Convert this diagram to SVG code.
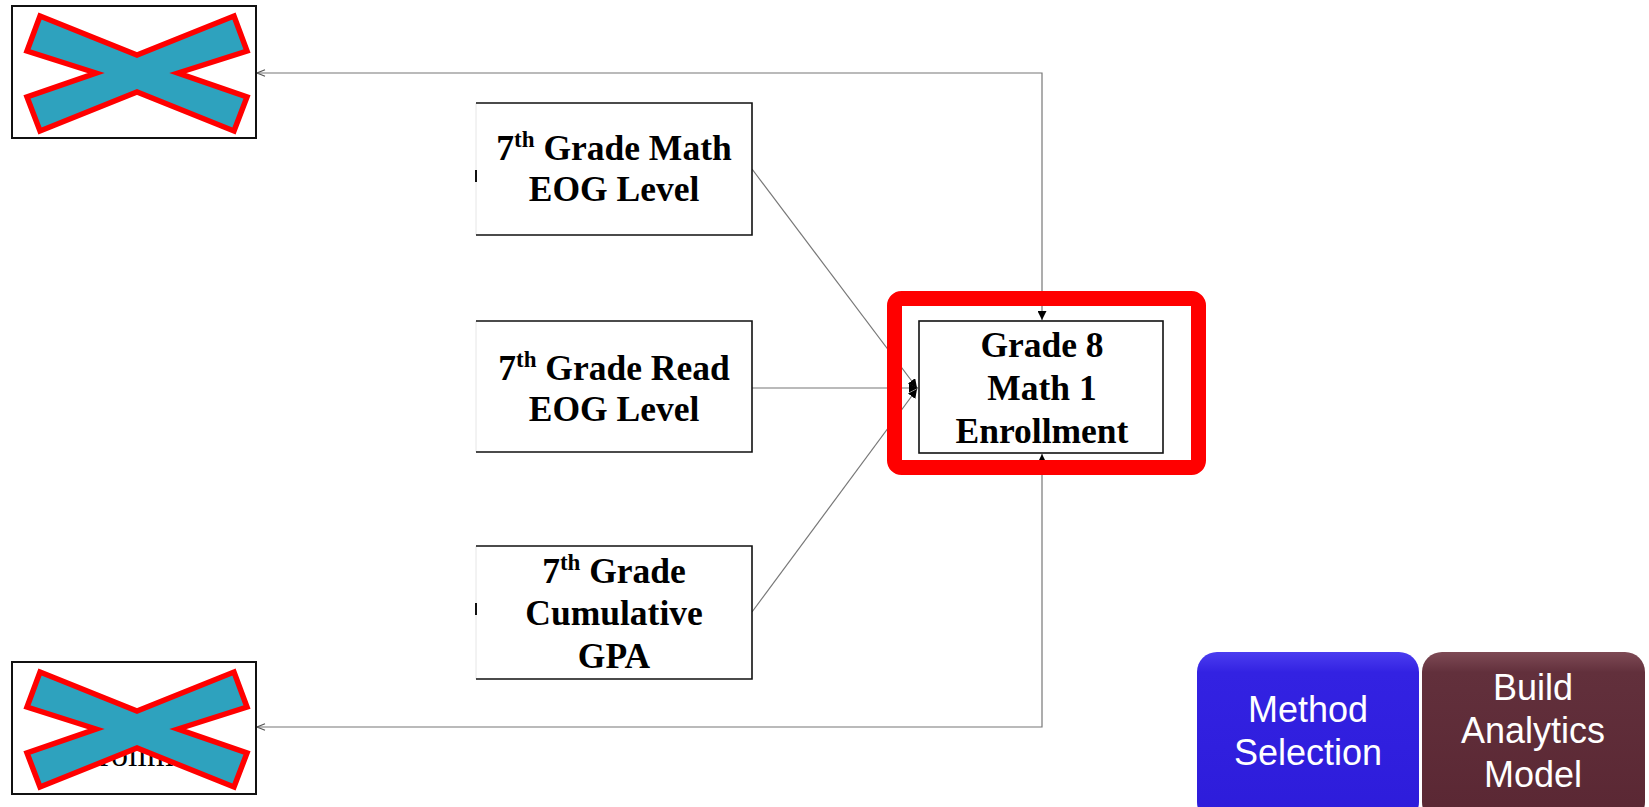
<svg xmlns="http://www.w3.org/2000/svg" width="1649" height="807" viewBox="0 0 1649 807">
<style>
.box{fill:#fff;stroke:#111;stroke-width:1.6}
.edge{stroke:#111;stroke-width:1.6;fill:none}
.faint{stroke:#e6e6e6;stroke-width:1;fill:none}
.lbl{font-family:"Liberation Serif","Times New Roman",serif;font-weight:bold;font-size:35.5px;fill:#000;text-anchor:middle}
.sup{font-size:23px}
.con{stroke:#777;stroke-width:1.2;fill:none}
.cross{fill:#2EA2BE;stroke:#FF0000;stroke-width:5.5;stroke-linejoin:miter}
.btn{font-family:"Liberation Sans",Arial,sans-serif;font-size:36px;fill:#fff;text-anchor:middle}
</style>
<defs>
<marker id="fa" viewBox="0 0 10 10" refX="10" refY="5" markerWidth="9" markerHeight="9" markerUnits="userSpaceOnUse" orient="auto-start-reverse">
<path d="M0,0 L10,5 L0,10 z" fill="#000"/>
</marker>
<marker id="oa" viewBox="0 0 10 10" refX="10" refY="5" markerWidth="10" markerHeight="8" markerUnits="userSpaceOnUse" orient="auto-start-reverse">
<path d="M0,1 L10,5 L0,9" fill="none" stroke="#555" stroke-width="1.5"/>
</marker>
<linearGradient id="gBlue" x1="0" y1="0" x2="0" y2="1">
<stop offset="0" stop-color="#4B3DF0"/>
<stop offset="0.12" stop-color="#3322E2"/>
<stop offset="1" stop-color="#2D1CDA"/>
</linearGradient>
<linearGradient id="gMar" x1="0" y1="0" x2="0" y2="1">
<stop offset="0" stop-color="#7E4A55"/>
<stop offset="0.12" stop-color="#62303C"/>
<stop offset="1" stop-color="#5A2733"/>
</linearGradient>
</defs>
<rect width="1649" height="807" fill="#fff"/>

<g id="connectors">
<line class="con" x1="752" y1="169" x2="917" y2="388" marker-end="url(#fa)"/>
<line class="con" x1="752" y1="388" x2="918" y2="388" marker-end="url(#fa)"/>
<line class="con" x1="752" y1="612" x2="917" y2="389" marker-end="url(#fa)"/>
<path class="con" d="M257,73 H1042 V320" marker-start="url(#oa)" marker-end="url(#fa)"/>
<path class="con" d="M257,727 H1042 V454" marker-start="url(#oa)" marker-end="url(#fa)"/>
</g>

<g id="node-top-left">
<rect x="12" y="6" width="244" height="132" fill="#fff" stroke="#111" stroke-width="2"/>
<polygon class="cross" points="40,16 137,55 234,16 247,51 178,73 247,97 234,131 137,92 40,131 27,97 96,73 27,51"/>
</g>

<g id="node-bottom-left">
<rect x="12" y="662" width="244" height="132" fill="#fff" stroke="#111" stroke-width="2"/>
<text x="62" y="766" font-family="Liberation Serif, Times New Roman, serif" font-size="34" fill="#000">Enrollment</text>
<polygon class="cross" transform="translate(0,656)" points="40,16 137,55 234,16 247,51 178,73 247,97 234,131 137,92 40,131 27,97 96,73 27,51"/>
</g>

<g id="node-math">
<rect x="476" y="103" width="276" height="132" fill="#fff" stroke="none"/>
<path class="faint" d="M476,103 V235"/>
<path class="edge" d="M476,103 H752 V235 H476"/>
<path d="M476,170 V182" stroke="#111" stroke-width="2"/>
<text class="lbl" x="614" y="160">7<tspan class="sup" dy="-13">th</tspan><tspan dy="13"> Grade Math</tspan></text>
<text class="lbl" x="614" y="201">EOG Level</text>
</g>

<g id="node-read">
<rect x="476" y="321" width="276" height="131" fill="#fff" stroke="none"/>
<path class="faint" d="M476,321 V452"/>
<path class="edge" d="M476,321 H752 V452 H476"/>
<text class="lbl" x="614" y="380">7<tspan class="sup" dy="-13">th</tspan><tspan dy="13"> Grade Read</tspan></text>
<text class="lbl" x="614" y="421">EOG Level</text>
</g>

<g id="node-gpa">
<rect x="476" y="546" width="276" height="133" fill="#fff" stroke="none"/>
<path class="faint" d="M476,546 V679"/>
<path class="edge" d="M476,546 H752 V679 H476"/>
<path d="M476,603 V615" stroke="#111" stroke-width="2"/>
<text class="lbl" x="614" y="583">7<tspan class="sup" dy="-13">th</tspan><tspan dy="13"> Grade</tspan></text>
<text class="lbl" x="614" y="625">Cumulative</text>
<text class="lbl" x="614" y="668">GPA</text>
</g>

<g id="node-target">
<rect x="919" y="321" width="244" height="132" fill="#fff" stroke="#111" stroke-width="1.6"/>
<text class="lbl" x="1042" y="357">Grade 8</text>
<text class="lbl" x="1042" y="400">Math 1</text>
<text class="lbl" x="1042" y="443">Enrollment</text>
</g>

<g id="highlight">
<rect x="894.5" y="298.5" width="304" height="169" rx="7" fill="none" stroke="#FF0000" stroke-width="15"/>
</g>

<g id="node-method">
<rect x="1197" y="652" width="222" height="170" rx="20" fill="url(#gBlue)"/>
<text class="btn" x="1308" y="722">Method</text>
<text class="btn" x="1308" y="765">Selection</text>
</g>

<g id="node-build">
<rect x="1422" y="652" width="223" height="170" rx="20" fill="url(#gMar)"/>
<text class="btn" x="1533" y="700">Build</text>
<text class="btn" x="1533" y="743">Analytics</text>
<text class="btn" x="1533" y="787">Model</text>
</g>
</svg>
